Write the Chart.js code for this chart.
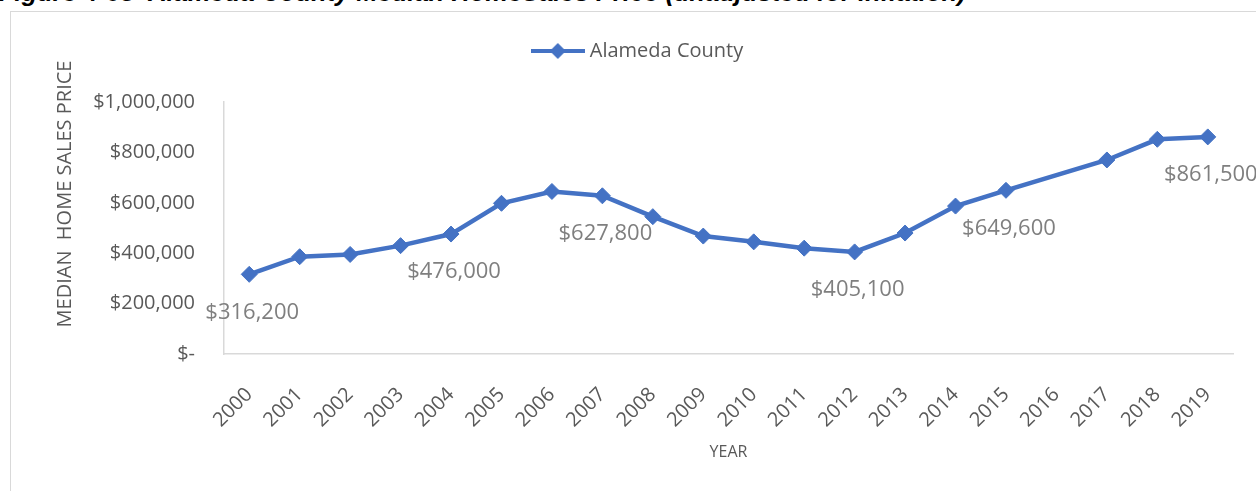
<!DOCTYPE html>
<html>
<head>
<meta charset="utf-8">
<script src="https://cdn.jsdelivr.net/npm/chart.js@4.4.0/dist/chart.umd.min.js"></script>
<style>
  html, body { margin: 0; padding: 0; width: 1256px; height: 491px; overflow: hidden; background: #fff; }
  #fig { position: absolute; left: -1px; top: -22px; white-space: nowrap; line-height: 1;
         font: italic bold 25.5px "Liberation Sans", Arial, sans-serif; color: #000; }
  #frame { position: absolute; left: 10px; top: 11px; width: 1300px; height: 600px;
           border: 1.5px solid #d9d9d9; }
  #wrap { position: absolute; left: 11px; top: 12px; width: 1258px; height: 479px; }
</style>
</head>
<body>
<div id="fig">Figure 4-05&nbsp; Alameda County Median HomeSales Price (unadjusted for inflation)</div>
<div id="frame"></div>
<div id="wrap"><canvas id="chart" width="1258" height="479"></canvas></div>
<script>
const years = ["2000", "2001", "2002", "2003", "2004", "2005", "2006", "2007", "2008", "2009",
               "2010", "2011", "2012", "2013", "2014", "2015", "2016", "2017", "2018", "2019"];
// no figure was published for 2016, the line bridges the gap
const prices = [316200, 386000, 395000, 430000, 476000, 598000, 645000, 627800, 545000, 468000,
                445000, 420000, 405100, 480000, 587000, 649600, null, 770000, 852000, 861500];
const labelledYears = ["2000", "2004", "2007", "2012", "2015", "2019"];
const yMax = 1000000;
const yStep = 200000;

const seriesName = "Alameda County";
const blue = "#4472C4";
const grey = "#595959";
const font = "'Open Sans', sans-serif";

function money(v) {
  return v === 0 ? "$-" : "$" + v.toLocaleString("en-US");
}

// legend sample: short line with a diamond on it
const legendMark = document.createElement("canvas");
legendMark.width = 54;
legendMark.height = 20;
(function () {
  const c = legendMark.getContext("2d");
  c.strokeStyle = blue;
  c.lineWidth = 4;
  c.beginPath();
  c.moveTo(0, 10);
  c.lineTo(54, 10);
  c.stroke();
  c.fillStyle = blue;
  c.beginPath();
  c.moveTo(27, 2);
  c.lineTo(35, 10);
  c.lineTo(27, 18);
  c.lineTo(19, 10);
  c.closePath();
  c.fill();
})();

const valueLabels = {
  id: "valueLabels",
  afterDatasetsDraw(chart) {
    const ctx = chart.ctx;
    const meta = chart.getDatasetMeta(0);
    ctx.save();
    ctx.font = "22px " + font;
    ctx.fillStyle = "#7f7f7f";
    ctx.textAlign = "center";
    ctx.textBaseline = "middle";
    meta.data.forEach((pt, i) => {
      if (!labelledYears.includes(years[i]) || prices[i] == null) return;
      ctx.fillText(money(prices[i]), pt.x + 3, pt.y + 38);
    });
    ctx.restore();
  }
};

const yTitle = {
  id: "yTitle",
  afterDraw(chart) {
    const ctx = chart.ctx;
    ctx.save();
    ctx.translate(54, 182);
    ctx.rotate(-Math.PI / 2);
    ctx.font = "20px " + font;
    ctx.fillStyle = grey;
    ctx.textAlign = "center";
    ctx.textBaseline = "middle";
    ctx.fillText("MEDIAN  HOME SALES PRICE", 0, 0);
    ctx.restore();
  }
};

new Chart(document.getElementById("chart"), {
  type: "line",
  data: {
    labels: years,
    datasets: [{
      label: seriesName,
      data: prices,
      borderColor: blue,
      backgroundColor: blue,
      borderWidth: 4.5,
      pointStyle: "rectRot",
      pointRadius: 8,
      pointBorderWidth: 1,
      pointBackgroundColor: blue,
      pointBorderColor: blue,
      spanGaps: true,
      tension: 0
    }]
  },
  options: {
    responsive: false,
    animation: false,
    layout: { padding: { top: 0, right: 36, bottom: 0, left: 35 } },
    plugins: {
      tooltip: { enabled: false },
      legend: {
        position: "top",
        labels: {
          usePointStyle: true,
          pointStyleWidth: 44,
          padding: 29,
          color: grey,
          font: { family: font, size: 20 },
          generateLabels(chart) {
            const items = Chart.defaults.plugins.legend.labels.generateLabels(chart);
            items.forEach(it => { it.pointStyle = legendMark; });
            return items;
          }
        }
      },
      // empty band between the legend and the plot
      subtitle: {
        display: true,
        text: "",
        weight: 500,
        font: { size: 20 },
        padding: { top: 0, bottom: 7 }
      }
    },
    scales: {
      x: {
        offset: true,
        grid: { display: false, drawTicks: false },
        border: { color: "#d9d9d9", width: 1.5 },
        ticks: {
          minRotation: 45,
          maxRotation: 45,
          autoSkip: false,
          padding: 29,
          color: grey,
          font: { family: font, size: 20 }
        },
        title: {
          display: true,
          text: "YEAR",
          color: grey,
          font: { family: font, size: 16 },
          padding: { top: 0, bottom: 29 }
        },
        afterFit(scale) { scale.height = 137; }
      },
      y: {
        min: 0,
        max: yMax,
        grid: { display: false, drawTicks: false },
        border: { color: "#d9d9d9", width: 1.5 },
        ticks: {
          stepSize: yStep,
          padding: 29,
          color: grey,
          font: { family: font, size: 20 },
          callback: v => money(v)
        },
        afterFit(scale) { scale.width = 178; }
      }
    }
  },
  plugins: [valueLabels, yTitle]
});
</script>
</body>
</html>
